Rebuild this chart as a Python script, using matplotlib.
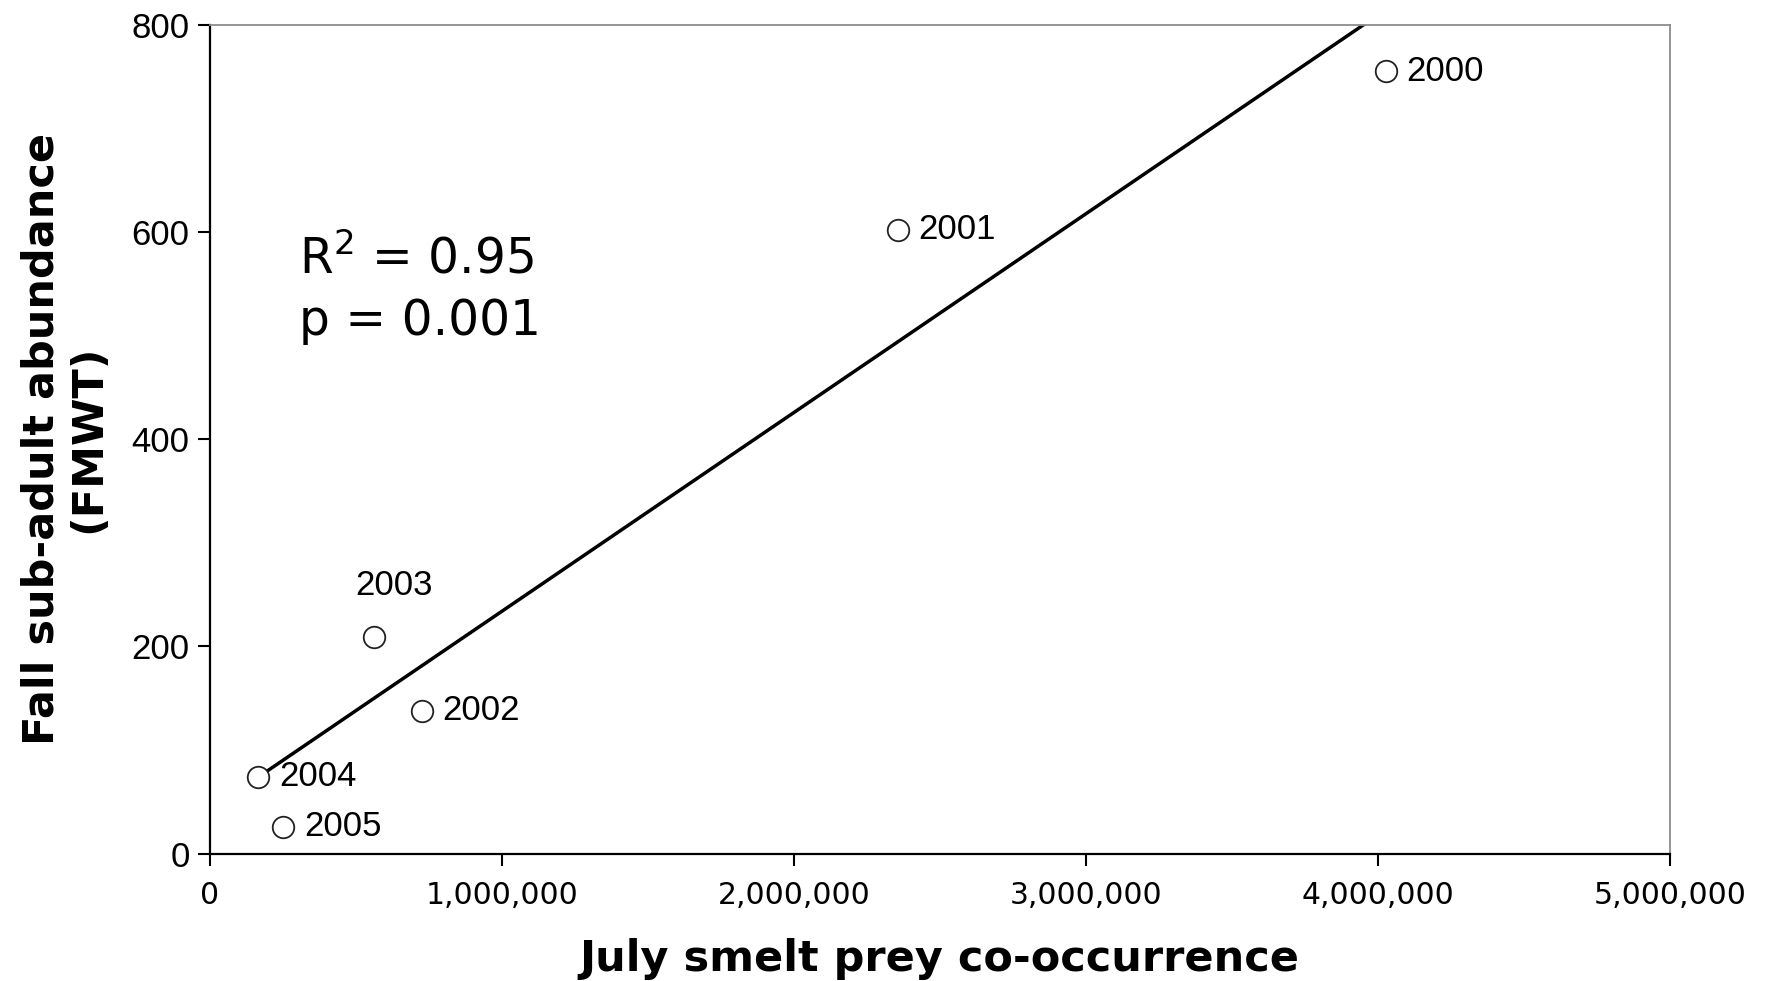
# plot.py
# -------
# Fall sub-adult abundance vs July smelt prey co-occurrence, with linear fit.

import numpy as np
import matplotlib
matplotlib.use("Agg")
import matplotlib.pyplot as plt
from matplotlib.ticker import FuncFormatter, MultipleLocator

# Data
years = ["2000", "2001", "2002", "2003", "2004", "2005"]
co_occurrence = [4027000, 2355000, 726000, 564000, 166000, 251000]
abundance = [755, 602, 138, 209, 74, 26]

r2_text = "R$^2$ = 0.95"
p_text = "p = 0.001"

fig = plt.figure(figsize=(17.68, 9.81), dpi=100)
ax = fig.add_axes([0.1186, 0.1298, 0.9446 - 0.1186, 0.9747 - 0.1298])

# Linear regression line, drawn from the smallest to the largest x
x = np.array(co_occurrence, dtype=float)
y = np.array(abundance, dtype=float)
slope, intercept = np.polyfit(x, y, 1)
xfit = np.array([x.min(), x.max()])
ax.plot(xfit, slope * xfit + intercept, color="black", lw=2.5, zorder=2)

# Open circle markers
ax.plot(x, y, "o", ms=15.5, mfc="white", mec="#222222", mew=1.3, ls="none", zorder=3)

# Year labels
label_font = ["Liberation Sans", "DejaVu Sans"]
for yr, xi, yi in zip(years, x, y):
    if yr == "2003":
        ax.annotate(yr, (xi, yi), xytext=(14, 37), textcoords="offset points",
                    ha="center", va="center", fontsize=25, family=label_font)
    else:
        ax.annotate(yr, (xi, yi), xytext=(15, 0), textcoords="offset points",
                    ha="left", va="center", fontsize=25, family=label_font)

ax.text(0.061, 0.700, r2_text, transform=ax.transAxes, fontsize=35, va="baseline", ha="left")
ax.text(0.061, 0.626, p_text, transform=ax.transAxes, fontsize=35, va="baseline", ha="left")

# Axes setup
ax.set_xlim(0, 5000000)
ax.set_ylim(0, 800)
ax.xaxis.set_major_locator(MultipleLocator(1000000))
ax.yaxis.set_major_locator(MultipleLocator(200))
ax.xaxis.set_major_formatter(FuncFormatter(lambda v, pos: f"{v:,.0f}"))

ax.tick_params(axis="both", direction="out", length=8.5, width=1.5, color="black")
ax.tick_params(axis="x", labelsize=21.5, pad=11)
ax.tick_params(axis="y", labelsize=25, pad=6)
for lbl in ax.get_yticklabels():
    lbl.set_family(label_font)

for side in ["left", "bottom"]:
    ax.spines[side].set_color("black")
    ax.spines[side].set_linewidth(1.6)
for side in ["top", "right"]:
    ax.spines[side].set_color("#8c8c8c")
    ax.spines[side].set_linewidth(1.3)

ax.set_xlabel("July smelt prey co-occurrence", fontsize=31, fontweight="bold", labelpad=20)
ax.set_ylabel("Fall sub-adult abundance\n(FMWT)", fontsize=31, fontweight="bold",
              labelpad=16, linespacing=1.15)

fig.savefig("out.png", dpi=100)
